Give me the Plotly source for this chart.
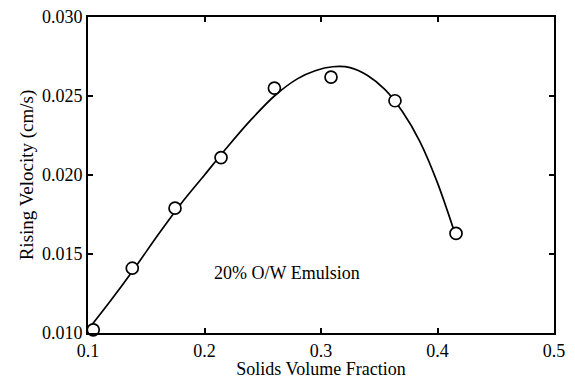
import plotly.graph_objects as go

# Measured points
pts_x = [0.1045, 0.138, 0.1747, 0.2142, 0.260, 0.3086, 0.3635, 0.4159]
pts_y = [0.0102, 0.0141, 0.0179, 0.0211, 0.0255, 0.0262, 0.0247, 0.0163]

# Fitted curve
curve_x = [0.100, 0.120, 0.140, 0.160, 0.180, 0.200, 0.220, 0.240, 0.260, 0.280,
           0.295, 0.310, 0.325, 0.340, 0.355, 0.370, 0.385, 0.400, 0.415]
curve_y = [0.0102, 0.0121, 0.0141, 0.0162, 0.0182, 0.0200, 0.0218, 0.0235, 0.0250, 0.0261,
           0.0266, 0.02685, 0.0268, 0.0263, 0.0254, 0.0240, 0.0221, 0.0195, 0.0163]

x_ticks = [0.1, 0.2, 0.3, 0.4, 0.5]
y_ticks = [0.010, 0.015, 0.020, 0.025, 0.030]

FONT = "Liberation Serif"

fig = go.Figure()
fig.add_trace(go.Scatter(x=curve_x, y=curve_y, mode="lines",
                         line=dict(color="black", width=1.7, shape="spline", smoothing=0.8),
                         hoverinfo="skip", showlegend=False, cliponaxis=False))
fig.add_trace(go.Scatter(x=pts_x, y=pts_y, mode="markers",
                         marker=dict(symbol="circle", size=12, color="white", line=dict(color="black", width=1.7)),
                         showlegend=False, cliponaxis=False))

fig.add_annotation(x=0.2062, y=0.01382, text="20% O/W Emulsion", showarrow=False, xanchor="left", yanchor="middle",
                   font=dict(family=FONT, size=18, color="black"))

axis_common = dict(showgrid=False, zeroline=False, showline=True, linecolor="black", linewidth=2,
                   mirror="ticks", ticks="inside", ticklen=5, tickwidth=1.5, tickcolor="black",
                   tickfont=dict(family=FONT, size=18, color="black"))

fig.update_xaxes(range=[0.1, 0.5], tickvals=x_ticks, ticktext=[f"{v:.1f}" for v in x_ticks],
                 title=dict(text="Solids Volume Fraction", font=dict(family=FONT, size=18, color="black"), standoff=3),
                 **axis_common)
fig.update_yaxes(range=[0.010, 0.030], tickvals=y_ticks, ticktext=[f"{v:.3f}" for v in y_ticks],
                 title=dict(text="Rising Velocity (cm/s)", font=dict(family=FONT, size=19, color="black"), standoff=3),
                 **axis_common)

fig.update_layout(width=575, height=379, margin=dict(l=88, r=21, t=17, b=46, autoexpand=False),
                  plot_bgcolor="white", paper_bgcolor="white")

fig.write_html("out.html")
